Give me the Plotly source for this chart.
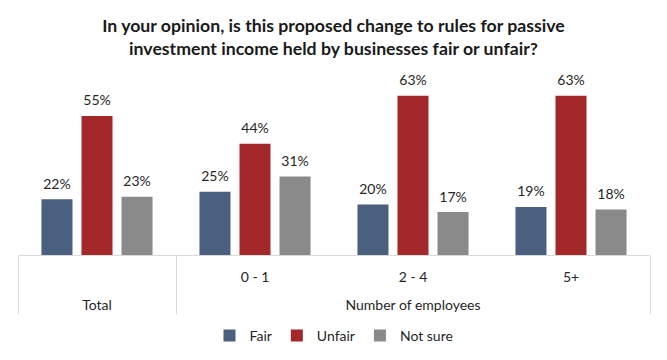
import plotly.graph_objects as go

outer = ["Total", "Number of employees", "Number of employees", "Number of employees"]
inner = [" ", "0 - 1", "2 - 4", "5+"]
fair = [22, 25, 20, 19]
unfair = [55, 44, 63, 63]
not_sure = [23, 31, 17, 18]

series = [("Fair", fair, "#4b5f7e"), ("Unfair", unfair, "#a3282a"), ("Not sure", not_sure, "#8a8a8a")]

# outer labels get a leading blank line so they sit lower, as in the reference
outer_disp = [" <br>" + o for o in outer]

fig = go.Figure()
for name, vals, col in series:
    fig.add_trace(go.Bar(
        x=[outer_disp, inner], y=vals, name=name,
        marker=dict(color=col, line=dict(width=0)),
        text=[f"{v}%" for v in vals],
        texttemplate="<span style='font-size:14px'>%{text}</span><br> ",
        textposition="outside",
        textfont=dict(family="Lato", size=5, color="#262626"),
        cliponaxis=False,
    ))

fig.update_layout(
    width=667, height=360,
    margin=dict(l=18, r=17, t=78, b=105, autoexpand=False),
    paper_bgcolor="white", plot_bgcolor="white",
    barmode="group", bargap=0.24, bargroupgap=0.225,
    font=dict(family="Lato", size=14, color="#262626"),
    title=dict(
        text="<b>In your opinion, is this proposed change to rules for passive<br>investment income held by businesses fair or unfair?</b>",
        x=0.5, xanchor="center", y=1 - 32 / 360, yanchor="top",
        font=dict(family="Lato", size=17.7, color="#1a1a1a"),
    ),
    legend=dict(orientation="h", x=0.5, xanchor="center", yref="container",
                y=1 - 336 / 360, yanchor="middle",
                font=dict(family="Lato", size=14, color="#262626"), traceorder="normal"),
    showlegend=True,
)
fig.update_xaxes(type="multicategory", showline=True, linecolor="#d9d9d9", linewidth=1,
                 showdividers=True, dividercolor="#d9d9d9", dividerwidth=1,
                 ticks="", ticklabelstandoff=9, automargin=False,
                 tickfont=dict(family="Lato", size=14, color="#262626"))
fig.update_yaxes(range=[0, 70], visible=False, showgrid=False, zeroline=False, automargin=False)

fig.write_html("out.html", config={"displayModeBar": False},
               post_script="document.body.style.margin='0px';")
